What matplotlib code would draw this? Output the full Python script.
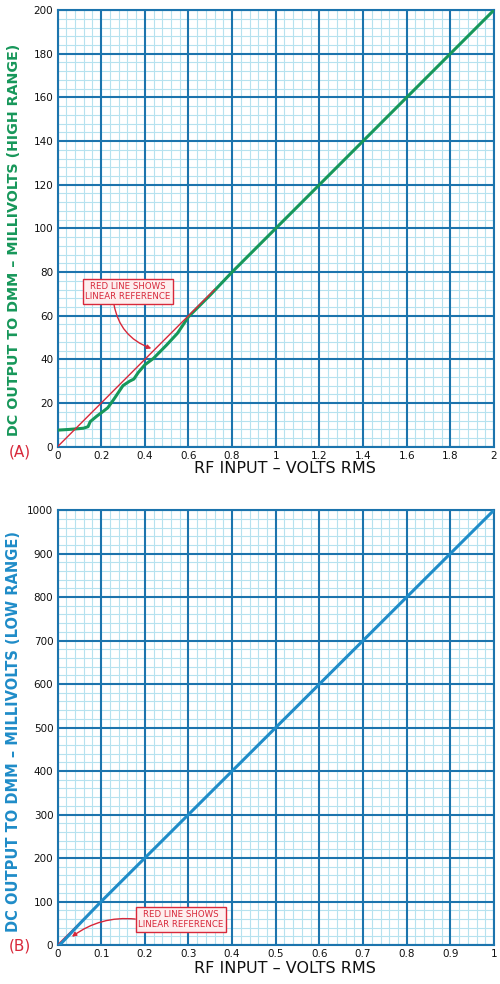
import matplotlib
matplotlib.use("Agg")
import matplotlib.pyplot as plt
from matplotlib.ticker import MultipleLocator

# ---- data ----
top_x = [0, 0.05, 0.10, 0.12, 0.14, 0.15, 0.18, 0.20, 0.23, 0.26, 0.28, 0.30, 0.33, 0.35,
         0.37, 0.40, 0.44, 0.50, 0.55, 0.60, 0.70, 0.80, 1.0, 1.2, 1.4, 1.6, 1.8, 2.0]
top_y = [7.6, 7.9, 8.3, 8.5, 9.2, 11.5, 14, 15.5, 17.8, 22, 25, 28, 30, 31,
         34, 37.5, 40.5, 46.6, 52, 59.5, 69.5, 80, 100, 120, 140, 160, 180, 200]
top_ref_x = [0, 0.72]
top_ref_y = [0, 72]

bot_x = [0.005, 0.05, 0.1, 0.2, 0.3, 0.4, 0.5, 0.6, 0.7, 0.8, 0.9, 1.0]
bot_y = [0, 48, 100, 200, 300, 400, 500, 600, 700, 800, 900, 1000]
bot_ref_x = [0, 0.1]
bot_ref_y = [0, 100]

top_xticks = [0, 0.2, 0.4, 0.6, 0.8, 1.0, 1.2, 1.4, 1.6, 1.8, 2.0]
top_xlabels = ["0", "0.2", "0.4", "0.6", "0.8", "1", "1.2", "1.4", "1.6", "1.8", "2"]
top_yticks = [0, 20, 40, 60, 80, 100, 120, 140, 160, 180, 200]
bot_xticks = [0, 0.1, 0.2, 0.3, 0.4, 0.5, 0.6, 0.7, 0.8, 0.9, 1.0]
bot_xlabels = ["0", "0.1", "0.2", "0.3", "0.4", "0.5", "0.6", "0.7", "0.8", "0.9", "1"]
bot_yticks = [0, 100, 200, 300, 400, 500, 600, 700, 800, 900, 1000]

MAJOR = "#1c74ad"
MINOR = "#b6e2ef"
GREEN = "#17975a"
BLUE = "#1f8cc8"
RED = "#d8283a"

plt.rcParams['font.family'] = ['DejaVu Sans']

fig = plt.figure(figsize=(5, 9.84), dpi=100)
fig.patch.set_facecolor("white")

ax1 = fig.add_axes([0.115, 0.546, 0.873, 0.4438])
ax2 = fig.add_axes([0.115, 0.0396, 0.873, 0.442])


def style(ax, xmax, xmaj, ymax, ymaj, xt, xl, yt):
    ax.set_xlim(0, xmax)
    ax.set_ylim(0, ymax)
    ax.xaxis.set_minor_locator(MultipleLocator(xmaj / 5))
    ax.yaxis.set_minor_locator(MultipleLocator(ymaj / 5))
    ax.set_xticks(xt)
    ax.set_xticklabels(xl)
    ax.set_yticks(yt)
    ax.grid(which="minor", color=MINOR, lw=0.8)
    ax.set_axisbelow(True)
    ax.vlines(xt, 0, ymax, colors=MAJOR, lw=1.5, zorder=1.5)
    ax.hlines(yt, 0, xmax, colors=MAJOR, lw=1.5, zorder=1.5)
    ax.tick_params(which="both", length=0, labelsize=7.5, pad=3, colors="#111111")
    for s in ax.spines.values():
        s.set_color(MAJOR)
        s.set_linewidth(1.5)


style(ax1, 2.0, 0.2, 200, 20, top_xticks, top_xlabels, top_yticks)
style(ax2, 1.0, 0.1, 1000, 100, bot_xticks, bot_xlabels, bot_yticks)

ax1.plot(top_ref_x, top_ref_y, color=RED, lw=1.0, zorder=4)
ax1.plot(top_x, top_y, color=GREEN, lw=2.2, zorder=3)
ax2.plot(bot_ref_x, bot_ref_y, color=RED, lw=1.0, zorder=3)
ax2.plot(bot_x, bot_y, color=BLUE, lw=2.2, zorder=4)

ax1.set_xlabel("RF INPUT – VOLTS RMS", fontsize=11.5, color="#111111")
ax2.set_xlabel("RF INPUT – VOLTS RMS", fontsize=11.5, color="#111111")
ax1.xaxis.set_label_coords(0.52, -0.033)
ax2.xaxis.set_label_coords(0.52, -0.037)
ax1.set_ylabel("DC OUTPUT TO DMM – MILLIVOLTS (HIGH RANGE)", fontsize=10.3,
               color=GREEN, fontweight="bold")
ax2.set_ylabel("DC OUTPUT TO DMM – MILLIVOLTS (LOW RANGE)", fontsize=10.5,
               color=BLUE, fontweight="bold")
ax1.yaxis.set_label_coords(-0.084, 0.473)
ax2.yaxis.set_label_coords(-0.084, 0.492)

fig.text(0.04, 1 - 452 / 984, "(A)", color=RED, fontsize=11, ha="center", va="center")
fig.text(0.04, 1 - 946 / 984, "(B)", color=RED, fontsize=11, ha="center", va="center")

box = dict(boxstyle="square,pad=0.3", fc="#fdeeee", ec=RED, lw=1.0)
ax1.annotate("RED LINE SHOWS\nLINEAR REFERENCE", xy=(0.43, 45), xytext=(0.323, 71),
             fontsize=6.2, color=RED, ha="center", va="center", bbox=box, zorder=6,
             arrowprops=dict(arrowstyle="-|>", color=RED, lw=1.0,
                             connectionstyle="arc3,rad=0.3", shrinkA=0, shrinkB=0,
                             relpos=(0.33, 0.0)))
ax2.annotate("RED LINE SHOWS\nLINEAR REFERENCE", xy=(0.033, 19), xytext=(0.283, 59),
             fontsize=6.2, color=RED, ha="center", va="center", bbox=box, zorder=6,
             arrowprops=dict(arrowstyle="-|>", color=RED, lw=1.0,
                             connectionstyle="arc3,rad=0.2", shrinkA=0, shrinkB=0,
                             relpos=(0.0, 0.5)))

fig.savefig("out.png", dpi=100, facecolor="white")
